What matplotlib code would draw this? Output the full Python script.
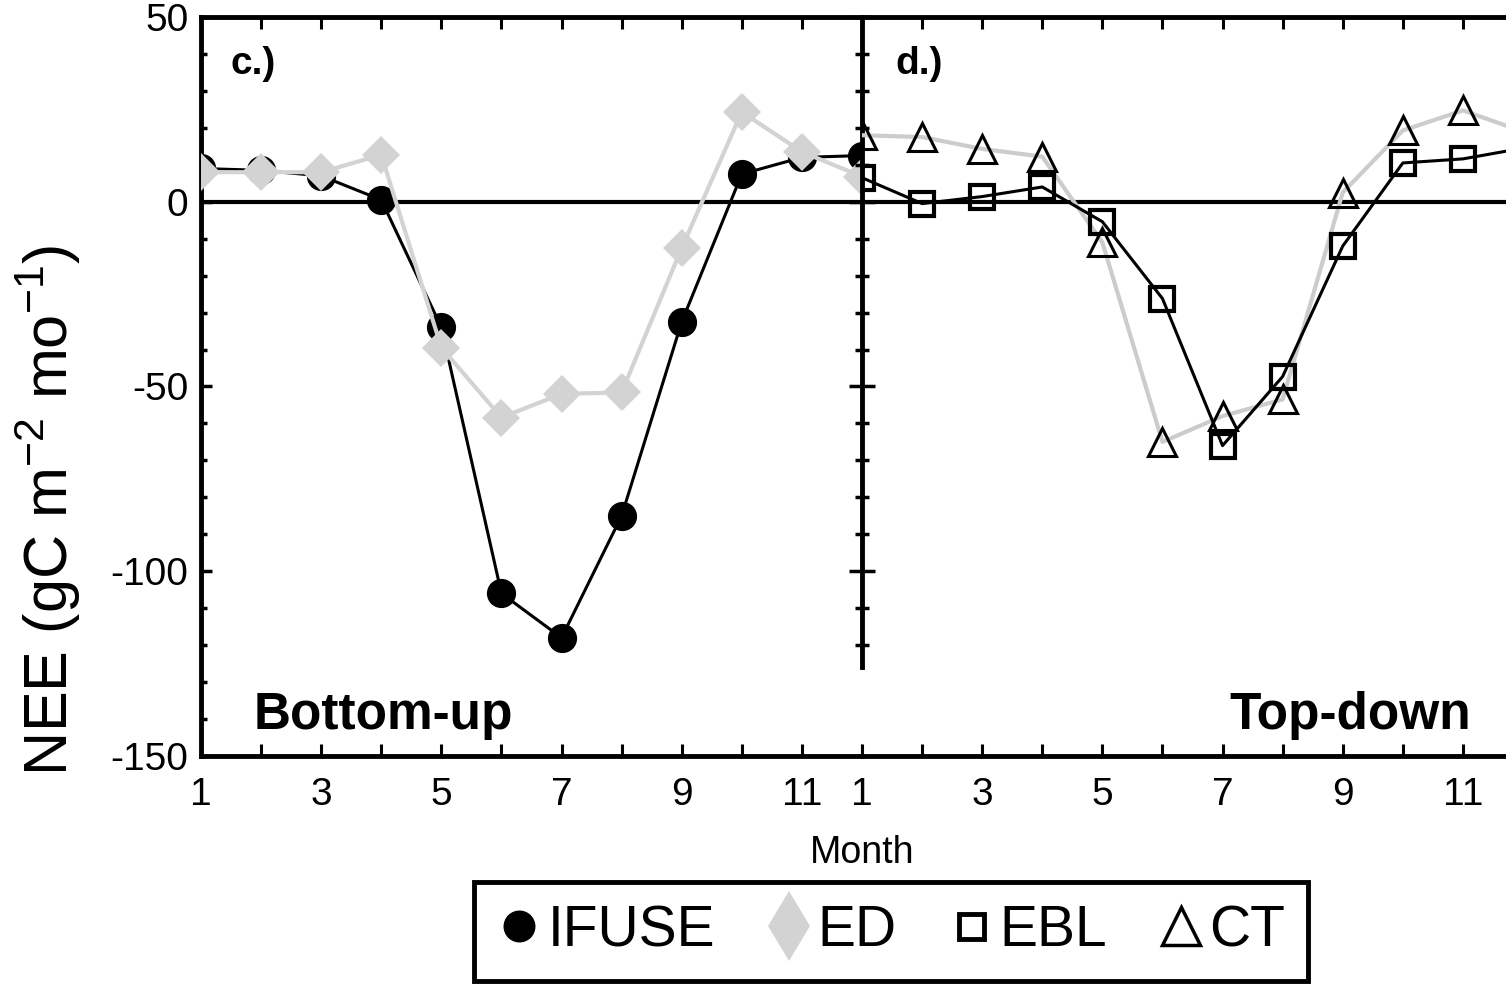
import numpy as np
import matplotlib.pyplot as plt
from matplotlib.lines import Line2D
from matplotlib.ticker import MultipleLocator

plt.rcParams['font.family'] = ['Liberation Sans', 'DejaVu Sans']
plt.rcParams['axes.unicode_minus'] = False

# Months (same axis for both panels)
months = [1, 2, 3, 4, 5, 6, 7, 8, 9, 10, 11, 12]
month_labels = ['1', '', '3', '', '5', '', '7', '', '9', '', '11', '']

# Bottom-up panel (c.)
ifuse = [9, 8.5, 7, 0.5, -34, -106, -118, -85, -32.5, 7.5, 12, 12.5]
ed = [8, 8, 8, 12.7, -39.5, -58.4, -52, -51.6, -12.5, 24.3, 13.5, 6.8]

# Top-down panel (d.)
ebl = [6.5, -0.5, 1.4, 4, -5.4, -26.2, -66, -47.3, -12, 10.5, 11.6, 14.5]
ct = [18, 17.5, 14.3, 12.2, -11, -65, -58, -53.5, 2.5, 19.3, 24.7, 19]

gray = '#d3d3d3'
fig = plt.figure(figsize=(15.06, 9.84), dpi=100)

# axes positions (right panel runs off the figure, as in the original)
ax1 = fig.add_axes([0.13347, 0.23171, 0.43891, 0.75102])
ax2 = fig.add_axes([0.57238, 0.23171, 0.43891, 0.75102])

for ax in [ax1, ax2]:
    ax.set_xlim(1, 12)
    ax.set_ylim(-150, 50)
    ax.axhline(0, color='black', linewidth=3, zorder=1)
    ax.set_xticks(months)
    ax.set_xticklabels(month_labels)
    ax.tick_params(axis='x', which='major', direction='in', length=8.5, width=2.2,
                   top=True, bottom=True, labelsize=28, pad=15)
    for s in ax.spines.values():
        s.set_linewidth(3.5)

# left panel
ax1.plot(months, ifuse, color='black', linewidth=2.2, marker='o', markersize=20, zorder=3)
ax1.plot(months, ed, color=gray, linewidth=3, marker='D', markersize=19, markeredgewidth=0, zorder=4)
ax1.spines['right'].set_visible(False)
ax1.yaxis.set_major_locator(MultipleLocator(50))
ax1.yaxis.set_minor_locator(MultipleLocator(10))
ax1.tick_params(axis='y', which='major', direction='in', length=8, width=2.5, labelsize=28, pad=9)
ax1.tick_params(axis='y', which='minor', direction='in', length=4, width=2.5)

# right panel
ax2.plot(months, ct, color='#cccccc', linewidth=3, marker='^', markersize=20,
         markerfacecolor='none', markeredgecolor='black', markeredgewidth=2.2, zorder=3)
ax2.plot(months, ebl, color='black', linewidth=2.2, marker='s', markersize=17,
         markerfacecolor='none', markeredgecolor='black', markeredgewidth=3, zorder=4)
ax2.spines['left'].set_bounds(-126, 50)
ax2.set_yticks([-100, -50, 0, 50])
ax2.set_yticks(list(range(-120, 50, 10)), minor=True)
ax2.tick_params(axis='y', which='major', direction='inout', length=19, width=2.5, labelleft=False)
ax2.tick_params(axis='y', which='minor', direction='inout', length=9.5, width=2.5)

# panel texts
ax1.text(0.044, 0.936, 'c.)', transform=ax1.transAxes, fontsize=28, fontweight='bold', va='center')
ax2.text(0.05, 0.936, 'd.)', transform=ax2.transAxes, fontsize=28, fontweight='bold', va='center')
ax1.text(0.079, 0.055, 'Bottom-up', transform=ax1.transAxes, fontsize=37, fontweight='bold', va='center')
ax2.text(0.921, 0.055, 'Top-down', transform=ax2.transAxes, fontsize=37, fontweight='bold',
         va='center', ha='right')

fig.text(862 / 1506, 1 - 853 / 984, 'Month', fontsize=27, ha='center', va='center')
fig.text(48 / 1506, 1 - 510 / 984, r'NEE (gC m$^{\mathregular{-2}}$ mo$^{\mathregular{-1}}$)',
         fontsize=44, rotation=90, ha='center', va='center')

# legend
handles = [
    Line2D([], [], linestyle='none', marker='o', markersize=22, color='black'),
    Line2D([], [], linestyle='none', marker='d', markersize=36, color=gray, markeredgewidth=0),
    Line2D([], [], linestyle='none', marker='s', markersize=18, markerfacecolor='none',
           markeredgecolor='black', markeredgewidth=3.5),
    Line2D([], [], linestyle='none', marker='^', markersize=27, markerfacecolor='none',
           markeredgecolor='black', markeredgewidth=2.5),
]
leg = fig.legend(handles, ['IFUSE', 'ED', 'EBL', 'CT'], loc='lower center',
                 bbox_to_anchor=(891 / 1506, 0.0), ncol=4, fontsize=41, frameon=True,
                 fancybox=False, edgecolor='black', framealpha=1, handlelength=0.8,
                 handletextpad=0.1, columnspacing=0.9, borderpad=0.4, borderaxespad=0.05)
leg.get_frame().set_linewidth(3.5)

plt.savefig('out.png', dpi=100)
